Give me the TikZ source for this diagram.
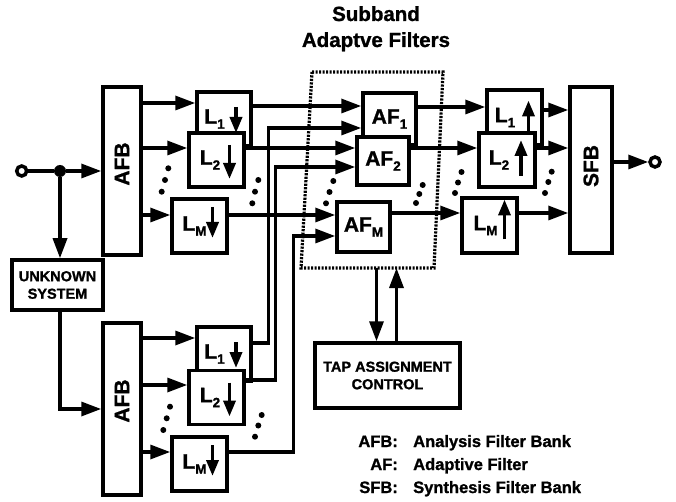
\documentclass[tikz,border=0pt]{standalone}
\usepackage{fontspec}
\setmainfont{Liberation Sans}[BoldFeatures={FakeBold=1.2}]
\usepackage{graphicx}
\usetikzlibrary{arrows.meta,calc}
\newcommand{\subx}[2]{#1\raisebox{-5pt}{\fontsize{13.5}{13.5}\selectfont #2}}
\newcommand{\pad}[1]{\hbox to #1{}}
\newcommand{\harr}[3]{\draw[arr] ($(#1.east |- #2.west)+(0,#3)$) -- ($(#2.west)+(0,#3)$);}
\begin{document}
\begin{tikzpicture}[x=1pt,y=-1pt,
  lw/.style={line width=3.5pt},
  box/.style={draw, line width=3.5pt, fill=white, inner sep=0pt, font=\fontsize{21}{21}\selectfont\bfseries},
  smallbox/.style={draw, line width=3.5pt, fill=white, inner sep=0pt, align=center, font=\fontsize{14.5}{17.5}\selectfont\bfseries},
  arr/.style={line width=3.3pt, -{Triangle[length=20pt,width=14pt]}},
  darr/.style={line width=3.6pt, -{Triangle[length=16pt,width=12pt]}},
  dotbox/.style={line width=3.2pt, dash pattern=on 2.2pt off 1.3pt},
  dot/.style={fill=black},
  legtxt/.style={inner sep=0pt, font=\fontsize{16.5}{16.5}\selectfont\bfseries},
  ttl/.style={inner sep=0pt, font=\fontsize{20.5}{20.5}\selectfont\bfseries}]
\fill[white] (0,0) rectangle (676,502);
\useasboundingbox (0,0) rectangle (676,502);

% title
\node[ttl, anchor=base] (t1) at (376,21) {Subband};
\node[ttl, anchor=base] (t2) at (376,47) {Adaptve Filters};

% filter banks
\node[box, minimum width=38pt, minimum height=168pt] (AFB1) at (122,171) {\rotatebox{90}{\pad{14pt}AFB}};
\node[box, minimum width=38pt, minimum height=172pt] (AFB2) at (122,409) {\rotatebox{90}{\pad{16pt}AFB}};
\node[box, minimum width=42pt, minimum height=166pt] (SFB) at (591,170) {\rotatebox{90}{\pad{8pt}SFB}};
\node[smallbox, minimum width=91pt, minimum height=50pt] (UNK) at (57.5,285) {UNKNOWN\\SYSTEM};
\node[smallbox, minimum width=145pt, minimum height=65pt] (TAP) at (387.5,375.5) {TAP ASSIGNMENT\\CONTROL};

% input
\node[circle, draw, lw, fill=white, inner sep=0pt, minimum size=10pt] (in) at (21.7,171) {};
\node[circle, fill=black, inner sep=0pt, minimum size=12pt] (j) at (60,171) {};
\draw[lw] (in) -- (j);
\draw[arr] (j) -- (AFB1.west);
\draw[arr] (j) -- (j |- UNK.north);
\draw[arr] (UNK.south -| j) |- (AFB2.west);

% top decimators
\node[box, minimum width=54pt, minimum height=54pt] (L1a) at (224,119) {\subx{L}{1}\pad{19pt}};
\draw[darr] ($(L1a.center)+(12,-12)$) -- ++(0,26);
\node[box, minimum width=55pt, minimum height=54pt] (L2a) at (216.5,160) {\subx{L}{2}\pad{13pt}};
\draw[darr] ($(L2a.center)+(13,-15)$) -- ++(0,34);
\node[box, minimum width=55pt, minimum height=54pt] (LMa) at (199.5,226) {\subx{L}{M}\pad{10pt}};
\draw[darr] ($(LMa.center)+(13,-19)$) -- ++(0,31);

% bottom decimators
\node[box, minimum width=54pt, minimum height=54pt] (L1b) at (224,354) {\subx{L}{1}\pad{19pt}};
\draw[darr] ($(L1b.center)+(12,-12)$) -- ++(0,26);
\node[box, minimum width=55pt, minimum height=54pt] (L2b) at (216.5,397.5) {\subx{L}{2}\pad{13pt}};
\draw[darr] ($(L2b.center)+(13,-15)$) -- ++(0,34);
\node[box, minimum width=55pt, minimum height=54pt] (LMb) at (199.5,464) {\subx{L}{M}\pad{10pt}};
\draw[darr] ($(LMb.center)+(13,-19)$) -- ++(0,31);

% adaptive filters
\node[box, minimum width=53pt, minimum height=52pt] (AF1) at (389.5,119) {\subx{AF}{1}};
\node[box, minimum width=52pt, minimum height=48pt] (AF2) at (383,161) {\subx{AF}{2}};
\node[box, minimum width=53pt, minimum height=50pt] (AFM) at (363.5,227) {\subx{AF}{M}};

% interpolators
\node[box, minimum width=55pt, minimum height=55pt] (L1u) at (514.5,117.5) {\subx{L}{1}\pad{19pt}};
\draw[darr] ($(L1u.center)+(14,14)$) -- ++(0,-31);
\node[box, minimum width=56pt, minimum height=54pt] (L2u) at (507,160) {\subx{L}{2}\pad{16pt}};
\draw[darr] ($(L2u.center)+(14,16)$) -- ++(0,-36);
\node[box, minimum width=55pt, minimum height=55pt] (LMu) at (489.5,225.5) {\subx{L}{M}\pad{8pt}};
\draw[darr] ($(LMu.center)+(15,14)$) -- ++(0,-40);

% output
\node[circle, draw, lw, fill=white, inner sep=0pt, minimum size=10pt] (out) at (655,162) {};
\draw[arr] (SFB.east |- out) -- (out.west);

% analysis to decimators
\harr{AFB1}{L1a}{-16}
\harr{AFB1}{L2a}{-12}
\harr{AFB1}{LMa}{-11}
\harr{AFB2}{L1b}{-16}
\harr{AFB2}{L2b}{-12.5}
\harr{AFB2}{LMb}{-12}

% decimators to adaptive filters
\harr{L1a}{AF1}{-13}
\harr{L2a}{AF2}{-13}
\harr{LMa}{AFM}{-12}
\draw[arr] ($(L1b.east)+(0,-11)$) -- ++(16,0) |- ($(AF1.west)+(0,9)$);
\draw[arr] ($(L2b.east)+(0,-17.5)$) -- ++(29.5,0) |- ($(AF2.west)+(0,6)$);
\draw[arr] ($(LMb.east)+(0,-12)$) -- ++(65,0) |- ($(AFM.west)+(0,9)$);

% adaptive filters to interpolators
\harr{AF1}{L1u}{-10.5}
\harr{AF2}{L2u}{-12}
\harr{AFM}{LMu}{-12.5}

% interpolators to synthesis
\harr{L1u}{SFB}{-60}
\harr{L2u}{SFB}{-22}
\harr{LMu}{SFB}{43}

% dotted box
\coordinate (dTL) at (312,72);
\coordinate (dTR) at (443,72);
\coordinate (dBR) at (434,268);
\coordinate (dBL) at (301,268);
\draw[dotbox] (dTL) -- (dTR) -- (dBR) -- (dBL) -- cycle;

% tap assignment arrows
\coordinate (ta) at ($(TAP.north)+(-11,0)$);
\coordinate (tb) at ($(TAP.north)+(9,0)$);
\draw[arr] (ta |- dBL) -- (ta);
\draw[arr] (tb) -- (tb |- dBL);

% ellipsis dots
\foreach \p in {(168.3,168.3),(165,180),(161.7,191.7),
  (258.3,180),(255,191.7),(252.3,203.3),
  (333.3,181),(329.5,192),(326,203.3),
  (422.7,185),(419.3,194),(416,203),
  (461.5,172),(458,182.5),(455,193),
  (551.7,171.7),(548.3,182),(545,193),
  (170,406.7),(166.7,418.3),(163.3,430),
  (261.7,415),(258.3,425.5),(255,436.7)}
  \fill[dot] \p circle[radius=3pt];

% legend
\node[legtxt, anchor=base east] (k1) at (398,447) {AFB:};
\node[legtxt, anchor=base west] (v1) at (413,447) {Analysis Filter Bank};
\node[legtxt, anchor=base east] (k2) at (398,470) {AF:};
\node[legtxt, anchor=base west] (v2) at (413,470) {Adaptive Filter};
\node[legtxt, anchor=base east] (k3) at (398,493) {SFB:};
\node[legtxt, anchor=base west] (v3) at (413,493) {Synthesis Filter Bank};
\end{tikzpicture}
\end{document}
